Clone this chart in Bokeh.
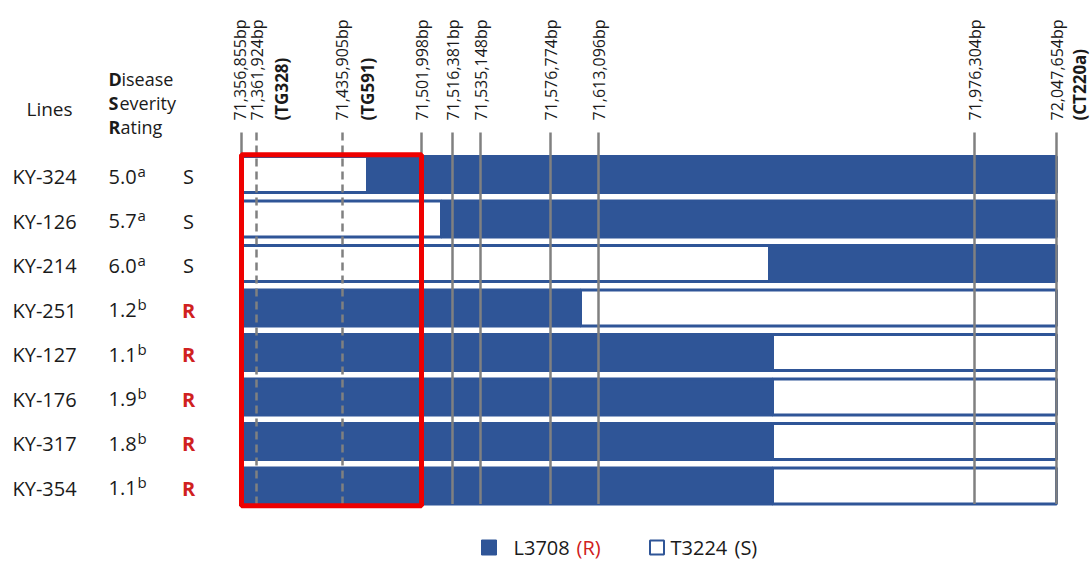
import numpy as np
from bokeh.plotting import figure
from bokeh.models import Range1d
from bokeh.embed import file_html
from bokeh.resources import INLINE
from bokeh.core.properties import value

# ---------------- data ----------------
lines = ["KY-324", "KY-126", "KY-214", "KY-251", "KY-127", "KY-176", "KY-317", "KY-354"]
ratings = ["5.0", "5.7", "6.0", "1.2", "1.1", "1.9", "1.8", "1.1"]
rating_group = ["a", "a", "a", "b", "b", "b", "b", "b"]
phenotype = ["S", "S", "S", "R", "R", "R", "R", "R"]

marker_bp = ["71,356,855bp", "71,361,924bp", "71,435,905bp", "71,501,998bp",
             "71,516,381bp", "71,535,148bp", "71,576,774bp", "71,613,096bp",
             "71,976,304bp", "72,047,654bp"]
# schematic (not-to-scale) positions of the markers along the drawn segment
marker_pos = [241, 256, 342, 421, 452, 480, 550, 598, 974, 1056]
marker_dashed = [False, True, True, False, False, False, False, False, False, False]
marker_name_idx = [1, 2, 9]
marker_name = ["(TG328)", "(TG591)", "(CT220a)"]

# genotype of the first (left) block of each line and schematic breakpoint
first_allele = ["T3224", "T3224", "T3224", "L3708", "L3708", "L3708", "L3708", "L3708"]
breakpoint = [367, 441, 769, 580, 772, 772, 772, 772]
qtl_markers = (0, 3)  # boxed region between these markers

alleles = ["L3708", "T3224"]
legend_tag = ["(R)", "(S)"]

# ---------------- style / layout ----------------
BLUE = "#2f5597"
GRAY = "#808080"
RED = "#ee0000"
DARKRED = "#d02020"
TXT = "#1a1a1a"
FONT = value("Open Sans")
W, H = 1091, 561
ROW0, PITCH = 174.0, 44.5      # pixel centre of first row, pixel pitch


def ry(pix):
    """pixel row (from top) -> row-index units used on the y scale"""
    return (pix - ROW0) / PITCH


BAR_H = 36 / PITCH
TXT_OFF = ry(ROW0 + 2)

p = figure(width=W, height=H, output_backend="svg", toolbar_location=None,
           x_range=Range1d(0, W), y_range=Range1d(ry(H), ry(0)),
           x_axis_type=None, y_axis_type=None, min_border=0,
           background_fill_color="white", border_fill_color="white")
p.outline_line_color = None
p.grid.visible = False

n = len(lines)
rows = list(range(n))
start, end = marker_pos[0], marker_pos[-1]

# ---------------- bars ----------------
left, right, top, bottom, fill = [], [], [], [], []
for i in rows:
    a1 = first_allele[i]
    a2 = alleles[1] if a1 == alleles[0] else alleles[0]
    for (l, r, a) in [(start, breakpoint[i], a1), (breakpoint[i], end, a2)]:
        left.append(l); right.append(r)
        top.append(i - BAR_H / 2); bottom.append(i + BAR_H / 2)
        fill.append(BLUE if a == "L3708" else "white")
p.quad(left=left, right=right, top=top, bottom=bottom, fill_color=fill,
       line_color=BLUE, line_width=3)

# ---------------- marker lines ----------------
line_top = ry(132)
line_bot = (n - 1) + BAR_H / 2
for x, d in zip(marker_pos, marker_dashed):
    p.segment(x0=[x], y0=[line_top], x1=[x], y1=[line_bot], line_color=GRAY,
              line_width=2.5, line_dash="8 5" if d else "solid")

# marker labels (rotated)
lab_y = ry(120)
lab_dx = [-2, 0, -1, 0, 0, 0, 0, 0, 0, 0]
p.text(x=[x + d for x, d in zip(marker_pos, lab_dx)], y=[lab_y] * len(marker_pos),
       text=marker_bp, angle=np.pi / 2, text_align="left", text_baseline="middle",
       text_font=FONT, text_font_size="16px", text_color=TXT)
name_dx = [25, 25, 23]
p.text(x=[marker_pos[k] + d for k, d in zip(marker_name_idx, name_dx)],
       y=[lab_y] * len(marker_name),
       text=marker_name, angle=np.pi / 2, text_align="left", text_baseline="middle",
       text_font=FONT, text_font_size="17px", text_font_style="bold", text_color=TXT)

# ---------------- QTL box ----------------
q0, q1 = marker_pos[qtl_markers[0]], marker_pos[qtl_markers[1]]
p.quad(left=[q0], right=[q1], top=[-BAR_H / 2 - 0.04], bottom=[line_bot + 0.04],
       fill_color=None, line_color=RED, line_width=5)

# ---------------- left table ----------------
ty = [i + TXT_OFF for i in rows]
p.text(x=[12] * n, y=ty, text=lines, text_align="left", text_baseline="middle",
       text_font=FONT, text_font_size="20px", text_color=TXT)
p.text(x=[108] * n, y=ty, text=ratings, text_align="left", text_baseline="middle",
       text_font=FONT, text_font_size="20px", text_color=TXT)
p.text(x=[137] * n, y=[t - 6 / PITCH for t in ty], text=rating_group, text_align="left",
       text_baseline="middle", text_font=FONT, text_font_size="15px", text_color=TXT)
ph_col = [TXT if s == "S" else DARKRED for s in phenotype]
ph_sty = ["normal" if s == "S" else "bold" for s in phenotype]
p.text(x=[188] * n, y=ty, text=phenotype, text_align="center", text_baseline="middle",
       text_font=FONT, text_font_size="20px", text_color=ph_col, text_font_style=ph_sty)

# headers
p.text(x=[26], y=[ry(108)], text=["Lines"], text_align="left", text_baseline="middle",
       text_font=FONT, text_font_size="19px", text_color=TXT)
hdr_first = ["D", "S", "R"]
hdr_rest = ["isease", "everity", "ating"]
hdr_y = [ry(78), ry(102), ry(126)]
hdr_x2 = [121, 119, 120]
p.text(x=[108] * 3, y=hdr_y, text=hdr_first, text_align="left", text_baseline="middle",
       text_font=FONT, text_font_size="18px", text_font_style="bold", text_color=TXT)
p.text(x=hdr_x2, y=hdr_y, text=hdr_rest, text_align="left", text_baseline="middle",
       text_font=FONT, text_font_size="18px", text_color=TXT)

# ---------------- legend ----------------
ly = ry(547)
p.scatter(x=[488.5], y=[ly], marker="square", size=15, fill_color=BLUE, line_color=BLUE)
p.scatter(x=[656.5], y=[ly], marker="square", size=14, fill_color="white",
          line_color=BLUE, line_width=2)
p.text(x=[513, 670], y=[ly, ly], text=[alleles[0], alleles[1]], text_align="left",
       text_baseline="middle", text_font=FONT, text_font_size="20px", text_color=TXT)
p.text(x=[576, 734], y=[ly, ly], text=legend_tag, text_align="left",
       text_baseline="middle", text_font=FONT, text_font_size="20px",
       text_color=[DARKRED, TXT])

open("out.html", "w").write(file_html(p, INLINE))
